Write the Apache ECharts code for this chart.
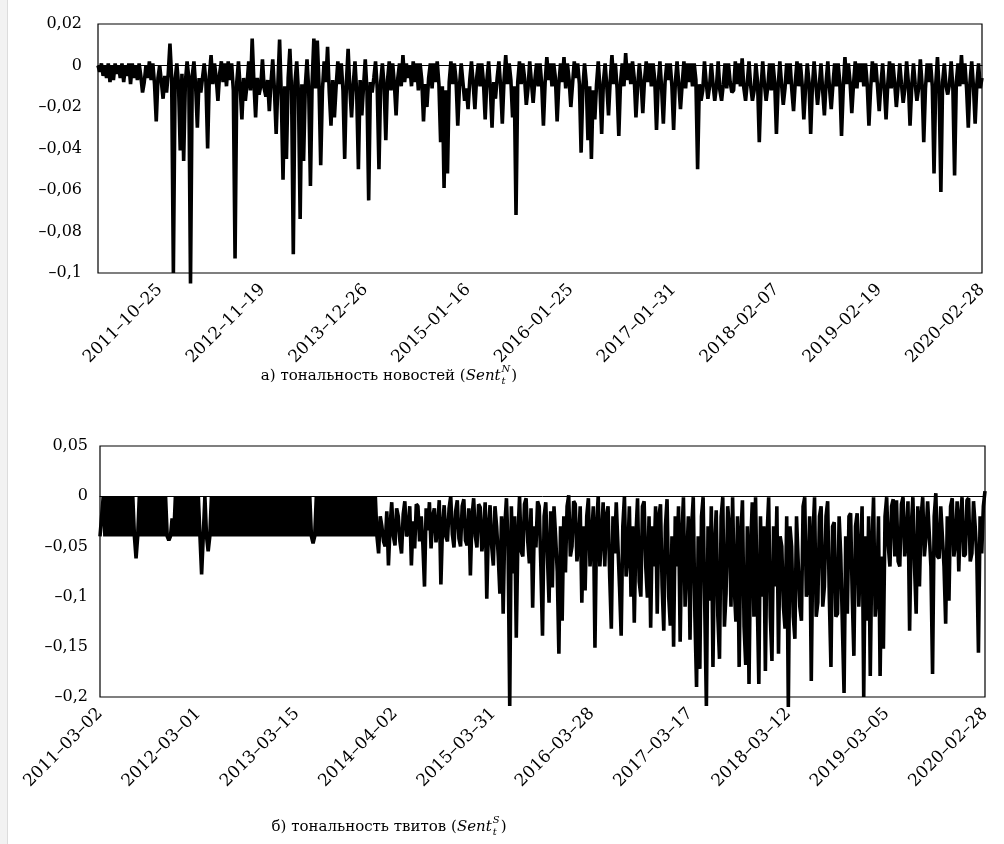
<!DOCTYPE html>
<html>
<head>
<meta charset="utf-8">
<script src="https://cdn.jsdelivr.net/npm/echarts@6.0.0/dist/echarts.min.js"></script>
<style>
  html, body { margin: 0; padding: 0; background: #fff; }
  #chart { width: 1004px; height: 844px; }
</style>
</head>
<body>
<div id="chart"></div>
<script>
// tick labels shown under each panel
const newsTicks = ['2011–10–25', '2012–11–19', '2013–12–26', '2015–01–16', '2016–01–25',
  '2017–01–31', '2018–02–07', '2019–02–19', '2020–02–28']
const tweetTicks = ['2011–03–02', '2012–03–01', '2013–03–15', '2014–04–02', '2015–03–31',
  '2016–03–28', '2017–03–17', '2018–03–12', '2019–03–05', '2020–02–28']
const tickStep = 60

// news sentiment
const newsSent = [
  0, -0.003, 0.001, -0.005, 0, -0.006, 0.001, -0.008, 0, -0.007, 0.001, -0.004, 0, -0.006, 0.001, -0.008, 0, -0.005, 0.001, -0.009,
  0.001, -0.006, 0, -0.007, 0.001, -0.005, -0.013, -0.008, 0, -0.006, 0.002, -0.007, 0.001, -0.009, -0.027, -0.006, 0, -0.008, -0.016, -0.005,
  -0.013, -0.004, 0.0105, -0.006, -0.1, -0.007, 0.001, -0.009, -0.041, -0.004, -0.046, -0.008, 0.002, -0.006, -0.105, -0.005, 0.002, -0.01, -0.03, -0.006,
  -0.013, -0.006, 0.001, -0.008, -0.04, -0.005, 0.005, -0.009, 0.001, -0.006, -0.017, -0.004, 0.002, -0.008, 0.001, -0.01, 0.002, -0.007, 0.001, -0.012,
  -0.093, -0.008, 0.002, -0.011, -0.026, -0.006, -0.017, -0.009, 0.002, -0.012, 0.013, -0.008, -0.025, -0.006, -0.014, -0.01, 0.003, -0.011, -0.015, -0.007,
  -0.022, -0.008, 0.003, -0.012, -0.033, -0.009, 0.0125, -0.015, -0.055, -0.01, -0.045, -0.006, 0.008, -0.012, -0.091, -0.008, 0.002, -0.013, -0.074, -0.009,
  -0.046, -0.01, 0.003, -0.012, -0.058, -0.008, 0.013, -0.011, 0.012, -0.009, -0.048, -0.012, 0.002, -0.008, 0.009, -0.013, -0.029, -0.007, -0.025, -0.01,
  0.002, -0.009, 0.001, -0.012, -0.045, -0.008, 0.008, -0.011, -0.025, -0.009, 0.002, -0.013, -0.05, -0.007, -0.024, -0.01, 0.003, -0.012, -0.065, -0.008,
  -0.013, -0.006, 0.002, -0.011, -0.05, -0.008, 0.001, -0.01, -0.036, -0.007, 0.002, -0.012, 0.001, -0.009, -0.024, -0.006, 0.001, -0.01, 0.005, -0.008,
  0.001, -0.006, 0, -0.01, 0.002, -0.008, 0.001, -0.012, 0.001, -0.007, -0.027, -0.009, -0.02, -0.006, 0.001, -0.011, 0.001, -0.008, 0.002, -0.009,
  -0.037, -0.01, -0.059, -0.012, -0.052, -0.008, 0.002, -0.009, 0.001, -0.007, -0.029, -0.01, 0.001, -0.008, -0.017, -0.011, -0.021, -0.007, 0.002, -0.009,
  -0.021, -0.006, 0.001, -0.01, 0.001, -0.008, -0.026, -0.007, 0.002, -0.011, -0.03, -0.008, -0.016, -0.006, 0.002, -0.01, -0.028, -0.007, 0.005, -0.009,
  0.001, -0.007, -0.025, -0.01, -0.072, -0.008, 0.002, -0.009, 0.001, -0.006, -0.019, -0.011, 0.002, -0.008, -0.018, -0.007, 0.001, -0.01, 0.001, -0.009,
  -0.029, -0.008, 0.004, -0.007, 0.001, -0.01, 0.001, -0.006, -0.027, -0.009, 0.001, -0.008, 0.004, -0.011, 0.001, -0.007, -0.02, -0.009, 0.002, -0.006,
  0.001, -0.009, -0.042, -0.011, 0.001, -0.008, -0.036, -0.01, -0.045, -0.012, -0.026, -0.009, 0.002, -0.011, -0.033, -0.008, 0.001, -0.01, -0.024, -0.007,
  0.005, -0.009, 0.001, -0.011, -0.034, -0.008, 0.001, -0.01, 0.006, -0.007, 0.001, -0.009, 0.002, -0.006, -0.025, -0.01, 0.001, -0.008, -0.023, -0.007,
  0.002, -0.008, 0.001, -0.01, 0.001, -0.007, -0.031, -0.009, 0.002, -0.011, -0.028, -0.008, 0.001, -0.007, 0.001, -0.01, -0.031, -0.008, 0.002, -0.009,
  -0.021, -0.009, 0.002, -0.011, 0.001, -0.008, 0.001, -0.01, 0.001, -0.007, -0.05, -0.009, -0.017, -0.012, 0.002, -0.008, -0.016, -0.01, 0.001, -0.009,
  -0.017, -0.01, 0.002, -0.012, -0.017, -0.009, 0.001, -0.011, 0.001, -0.008, -0.013, -0.012, 0.002, -0.009, 0.001, -0.01, 0.0035, -0.011, -0.017, -0.008,
  0.002, -0.01, -0.017, -0.012, 0.001, -0.008, -0.037, -0.011, 0.002, -0.009, -0.017, -0.01, 0.001, -0.012, 0.001, -0.008, -0.033, -0.01, 0.002, -0.009,
  -0.019, -0.011, 0.001, -0.009, 0.001, -0.012, -0.022, -0.008, 0.002, -0.01, 0.001, -0.009, -0.026, -0.011, 0.001, -0.008, -0.033, -0.01, 0.002, -0.009,
  -0.019, -0.01, 0.001, -0.012, -0.024, -0.008, 0.002, -0.011, -0.021, -0.009, 0.001, -0.01, 0.001, -0.008, -0.034, -0.011, 0.004, -0.009, 0.001, -0.008,
  -0.023, -0.009, 0.002, -0.011, 0.001, -0.008, 0.001, -0.01, 0.001, -0.009, -0.029, -0.011, 0.002, -0.008, 0.001, -0.01, -0.022, -0.009, 0.001, -0.011,
  -0.026, -0.009, 0.002, -0.011, 0.001, -0.008, -0.02, -0.01, 0.001, -0.009, -0.018, -0.011, 0.002, -0.008, -0.029, -0.01, 0.001, -0.009, -0.017, -0.011,
  0.003, -0.009, -0.037, -0.011, 0.001, -0.008, 0.001, -0.01, -0.052, -0.009, 0.004, -0.012, -0.061, -0.008, 0.001, -0.01, -0.014, -0.009, 0.002, -0.011,
  -0.053, -0.008, 0.001, -0.01, 0.005, -0.009, 0.001, -0.011, -0.03, -0.008, 0.002, -0.01, -0.028, -0.009, 0.001, -0.011, -0.006
]

// tweet sentiment
const tweetSent = [
  -0.04, -0.04, 0, -0.04, 0, -0.04, 0, -0.04, 0, -0.04, 0, -0.04, 0, -0.04, 0, -0.04, 0, -0.04, 0, -0.04,
  0, -0.04, -0.062, -0.04, 0, -0.04, 0, -0.04, 0, -0.04, 0, -0.04, 0, -0.04, 0, -0.04, 0, -0.04, 0, -0.04,
  0, -0.04, -0.044, -0.04, -0.022, -0.04, 0, -0.04, 0, -0.04, 0, -0.04, 0, -0.04, 0, -0.04, 0, -0.04, 0, -0.04,
  0, -0.04, -0.078, -0.04, 0, -0.04, -0.055, -0.04, 0, -0.04, 0, -0.04, 0, -0.04, 0, -0.04, 0, -0.04, 0, -0.04,
  0, -0.04, 0, -0.04, 0, -0.04, 0, -0.04, 0, -0.04, 0, -0.04, 0, -0.04, 0, -0.04, 0, -0.04, 0, -0.04,
  0, -0.04, 0, -0.04, 0, -0.04, 0, -0.04, 0, -0.04, 0, -0.04, 0, -0.04, 0, -0.04, 0, -0.04, 0, -0.04,
  0, -0.04, 0, -0.04, 0, -0.04, 0, -0.04, 0, -0.04, -0.047, -0.04, 0, -0.04, 0, -0.04, 0, -0.04, 0, -0.04,
  0, -0.04, 0, -0.04, 0, -0.04, 0, -0.04, 0, -0.04, 0, -0.04, 0, -0.04, 0, -0.04, 0, -0.04, 0, -0.04,
  0, -0.04, 0, -0.04, 0, -0.04, 0, -0.04, 0, -0.04, -0.057, -0.02, -0.03, -0.045, -0.05, -0.015, -0.069, -0.03, -0.006, -0.04,
  -0.049, -0.012, -0.02, -0.045, -0.057, -0.018, -0.005, -0.04, -0.035, -0.01, -0.069, -0.025, -0.052, -0.008, -0.01, -0.045, -0.02, -0.048, -0.09, -0.012,
  -0.034, -0.006, -0.052, -0.02, -0.012, -0.046, -0.03, -0.004, -0.088, -0.03, -0.009, -0.04, -0.045, -0.012, 0, -0.038, -0.051, -0.015, -0.004, -0.042,
  -0.05, -0.01, -0.003, -0.044, -0.049, -0.012, -0.079, -0.02, -0.002, -0.04, -0.051, -0.008, -0.011, -0.055, -0.04, -0.006, -0.102, -0.03, -0.009, -0.05,
  -0.069, -0.01, -0.03, -0.06, -0.097, -0.02, -0.117, -0.03, -0.002, -0.05, -0.209, -0.01, -0.077, -0.02, -0.141, -0.04, 0, -0.055, -0.06, -0.008,
  -0.002, -0.045, -0.067, -0.012, -0.111, -0.03, -0.051, -0.005, -0.01, -0.07, -0.139, -0.02, -0.006, -0.06, -0.106, -0.015, -0.091, -0.01, -0.04, -0.075,
  -0.157, -0.03, -0.124, -0.02, -0.076, -0.01, 0.001, -0.06, -0.05, -0.005, -0.008, -0.065, -0.047, -0.01, -0.106, -0.03, -0.094, -0.02, -0.002, -0.07,
  -0.04, -0.01, -0.151, -0.03, 0, -0.07, -0.041, -0.006, -0.07, -0.02, -0.01, -0.08, -0.132, -0.02, -0.057, -0.006, -0.005, -0.09, -0.139, -0.03,
  0, -0.08, -0.06, -0.01, -0.1, -0.03, -0.126, -0.04, -0.002, -0.085, -0.1, -0.01, -0.005, -0.07, -0.101, -0.02, -0.131, -0.03, -0.07, -0.01,
  -0.117, -0.02, -0.008, -0.09, -0.134, -0.03, -0.003, -0.1, -0.129, -0.04, -0.15, -0.02, -0.07, -0.01, -0.145, -0.04, -0.001, -0.11, -0.065, -0.02,
  -0.143, -0.03, -0.001, -0.12, -0.19, -0.04, -0.172, -0.02, -0.001, -0.11, -0.209, -0.03, -0.104, -0.01, -0.17, -0.05, -0.014, -0.12, -0.162, -0.02,
  -0.001, -0.13, -0.097, -0.01, -0.03, -0.11, -0.001, -0.09, -0.125, -0.02, -0.17, -0.04, -0.004, -0.13, -0.168, -0.03, -0.187, -0.05, -0.006, -0.12,
  -0.001, -0.1, -0.187, -0.02, -0.1, -0.03, -0.174, -0.04, -0.001, -0.12, -0.164, -0.03, -0.09, -0.01, -0.157, -0.04, -0.05, -0.11, -0.132, -0.02,
  -0.21, -0.03, -0.05, -0.12, -0.142, -0.02, -0.02, -0.11, -0.124, -0.01, -0.001, -0.1, -0.09, -0.02, -0.184, -0.04, -0.001, -0.12, -0.106, -0.02,
  -0.01, -0.11, -0.09, -0.02, -0.005, -0.1, -0.17, -0.03, -0.026, -0.12, -0.117, -0.02, -0.06, -0.13, -0.196, -0.04, -0.117, -0.02, -0.017, -0.1,
  -0.159, -0.03, -0.017, -0.11, -0.06, -0.01, -0.2, -0.04, -0.124, -0.02, -0.179, -0.05, -0.001, -0.12, -0.097, -0.02, -0.179, -0.06, -0.152, -0.02,
  -0.001, -0.05, -0.07, -0.01, -0.003, -0.06, -0.004, -0.065, -0.07, -0.008, -0.001, -0.06, -0.04, -0.005, -0.134, -0.03, -0.001, -0.07, -0.117, -0.01,
  -0.09, -0.02, -0.001, -0.06, -0.04, -0.005, -0.005, -0.07, -0.177, -0.02, 0.003, -0.06, -0.062, -0.01, -0.04, -0.07, -0.127, -0.02, -0.104, -0.01,
  -0.002, -0.06, -0.047, -0.005, -0.075, -0.02, -0.001, -0.06, -0.058, -0.004, -0.002, -0.065, -0.057, -0.005, -0.03, -0.06, -0.156, -0.02, -0.057, -0.01,
  0.005
]

const FONT = 'DejaVu Serif'

// ticks are counted back from the last observation
function tickMap(n, ticks) {
  const m = {}
  ticks.forEach((t, k) => { m[n - 1 - (ticks.length - 1 - k) * tickStep] = t })
  return m
}
const newsTickAt = tickMap(newsSent.length, newsTicks)
const tweetTickAt = tickMap(tweetSent.length, tweetTicks)

const fmtY = (v) => String(+v.toFixed(3)).replace('.', ',').replace('-', '–')

const xAxisFor = (grid, n, at) => ({
  type: 'category',
  gridIndex: grid,
  data: Array.from({ length: n }, (_, i) => String(i)),
  boundaryGap: false,
  axisLine: { show: true, lineStyle: { color: '#000', width: 1 } },
  axisTick: { show: false },
  axisLabel: {
    interval: (idx) => at[idx] !== undefined,
    formatter: (v, idx) => at[idx] || '',
    rotate: 45,
    margin: 14,
    fontFamily: FONT,
    fontSize: 17,
    color: '#000'
  }
})

const yAxisFor = (grid, min, max, step, margin) => ({
  type: 'value',
  gridIndex: grid,
  min: min,
  max: max,
  interval: step,
  splitLine: { show: false },
  axisLine: { show: false },
  axisTick: { show: false },
  axisLabel: { formatter: fmtY, margin: margin, fontFamily: FONT, fontSize: 16, color: '#000' }
})

const lineFor = (idx, data) => ({
  type: 'line',
  xAxisIndex: idx,
  yAxisIndex: idx,
  data: data,
  symbol: 'none',
  showSymbol: false,
  clip: false,
  silent: true,
  lineStyle: { color: '#000', width: 3.6, join: 'bevel' }
})

// caption with stacked sub/superscript after "Sent"
const measure = document.createElement('canvas').getContext('2d')
function textW(s, font) { measure.font = font; return measure.measureText(s).width }

function caption(cx, cy, pre, sup) {
  const main = '15px "' + FONT + '"'
  const ital = 'italic 15px "' + FONT + '"'
  const small = 'italic 10px "' + FONT + '"'
  const w1 = textW(pre, main)
  const w2 = textW('Sent', ital)
  const w3 = Math.max(textW(sup, small), textW('t', small)) + 2
  const w4 = textW(')', main)
  let x = cx - (w1 + w2 + w3 + w4) / 2
  const base = { fill: '#000', fontFamily: FONT, verticalAlign: 'middle' }
  const els = []
  els.push({ type: 'text', x: x, y: cy, style: Object.assign({ text: pre, fontSize: 15 }, base) })
  x += w1
  els.push({ type: 'text', x: x, y: cy, style: Object.assign({ text: 'Sent', fontSize: 15, fontStyle: 'italic' }, base) })
  x += w2
  els.push({ type: 'text', x: x + 1, y: cy - 7, style: Object.assign({ text: sup, fontSize: 10, fontStyle: 'italic' }, base) })
  els.push({ type: 'text', x: x + 1, y: cy + 5, style: Object.assign({ text: 't', fontSize: 10, fontStyle: 'italic' }, base) })
  x += w3
  els.push({ type: 'text', x: x, y: cy, style: Object.assign({ text: ')', fontSize: 15 }, base) })
  return els
}

const chart = echarts.init(document.getElementById('chart'), null, { renderer: 'canvas' })

chart.setOption({
  animation: false,
  backgroundColor: '#fff',
  grid: [
    { left: 98, top: 24, width: 884, height: 249, show: true, borderColor: '#000', borderWidth: 1.2 },
    { left: 100, top: 446, width: 885, height: 251, show: true, borderColor: '#000', borderWidth: 1.2 }
  ],
  xAxis: [
    xAxisFor(0, newsSent.length, newsTickAt),
    xAxisFor(1, tweetSent.length, tweetTickAt)
  ],
  yAxis: [
    yAxisFor(0, -0.1, 0.02, 0.02, 16),
    yAxisFor(1, -0.2, 0.05, 0.05, 12)
  ],
  series: [
    lineFor(0, newsSent),
    lineFor(1, tweetSent)
  ],
  graphic: [
    { type: 'rect', shape: { x: 0, y: 0, width: 7, height: 844 }, style: { fill: '#f2f2f2' }, silent: true },
    { type: 'rect', shape: { x: 7, y: 0, width: 1, height: 844 }, style: { fill: '#dcdcdc' }, silent: true }
  ].concat(
    caption(389, 376, 'а) тональность новостей (', 'N'),
    caption(389, 827, 'б) тональность твитов (', 'S')
  )
})
</script>
</body>
</html>
